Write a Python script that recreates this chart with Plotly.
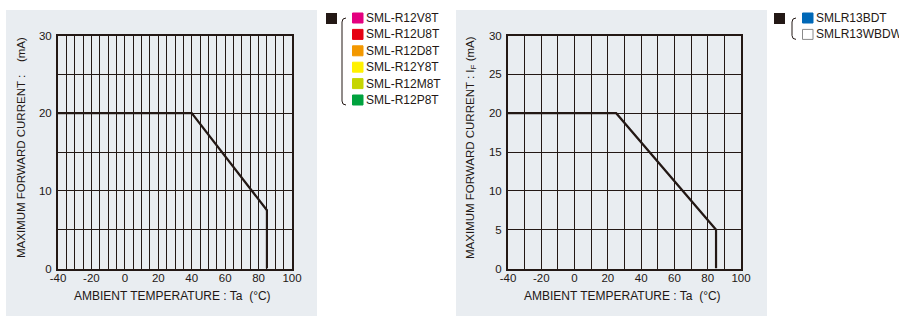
import plotly.graph_objects as go

W, H = 899, 316

# ---------------- data ----------------
left_temp = [-40, 40, 85, 85]
left_current = [20, 20, 7.5, 0]
right_temp = [-40, 25, 85, 85]
right_current = [20, 20, 5, 0]

x_grid_left = list(range(-40, 101, 5))
x_grid_right = list(range(-40, 101, 10))
x_labels = ["-40", "-20", "0", "20", "40", "60", "80", "100"]
x_label_vals = [-40, -20, 0, 20, 40, 60, 80, 100]
y_grid = list(range(0, 31, 5))
y_labels_left = {0: "0", 10: "10", 20: "20", 30: "30"}
y_labels_right = {0: "0", 5: "5", 10: "10", 15: "15", 20: "20", 25: "25", 30: "30"}

left_legend_names = ["SML-R12V8T", "SML-R12U8T", "SML-R12D8T", "SML-R12Y8T", "SML-R12M8T", "SML-R12P8T"]
left_legend_colors = ["#e4007f", "#e60012", "#f39800", "#fff100", "#c5d500", "#00a23e"]
right_legend_names = ["SMLR13BDT", "SMLR13WBDW"]
right_legend_colors = ["#0068b7", "#ffffff"]

INK = "#231815"
BG = "#e9edf1"
FONT = "Liberation Sans, Arial, sans-serif"


def px(x):
    return x / W


def py(y):
    return 1 - y / H


fig = go.Figure()
fig.add_trace(go.Scatter(x=left_temp, y=left_current, mode="lines",
                         line=dict(color=INK, width=2.2), xaxis="x", yaxis="y",
                         showlegend=False, hoverinfo="skip"))
fig.add_trace(go.Scatter(x=right_temp, y=right_current, mode="lines",
                         line=dict(color=INK, width=2.2), xaxis="x2", yaxis="y2",
                         showlegend=False, hoverinfo="skip"))


def xaxis_cfg(domain, grid):
    return dict(domain=domain, range=[-40, 100], tickvals=grid,
                ticktext=[x_labels[x_label_vals.index(v)] if v in x_label_vals else "" for v in grid],
                showgrid=True, gridcolor=INK, gridwidth=1.3, zeroline=False,
                showline=True, linecolor=INK, linewidth=2, mirror=True,
                ticks="", ticklen=0, automargin=False, tickangle=0,
                ticklabelstandoff=-2,
                tickfont=dict(family=FONT, size=11.5, color=INK),
                fixedrange=True)


def yaxis_cfg(domain, labels):
    return dict(domain=domain, range=[0, 30], tickvals=y_grid,
                ticktext=[labels.get(v, "") for v in y_grid],
                showgrid=True, gridcolor=INK, gridwidth=1.3, zeroline=False,
                showline=True, linecolor=INK, linewidth=2, mirror=True,
                ticks="", ticklen=0, automargin=False, ticklabelstandoff=2,
                tickfont=dict(family=FONT, size=11.5, color=INK),
                fixedrange=True)


ydom = [py(268.5), py(35.5)]
fig.update_layout(
    template="none",
    width=W, height=H, autosize=False,
    margin=dict(l=0, r=0, t=0, b=0, pad=0),
    paper_bgcolor="white", plot_bgcolor="white",
    xaxis=dict(xaxis_cfg([px(58), px(292)], x_grid_left), anchor="y"),
    yaxis=dict(yaxis_cfg(ydom, y_labels_left), anchor="x"),
    xaxis2=dict(xaxis_cfg([px(508), px(741)], x_grid_right), anchor="y2"),
    yaxis2=dict(yaxis_cfg(ydom, y_labels_right), anchor="x2"),
    font=dict(family=FONT, color=INK),
    showlegend=False,
)

shapes = []
annotations = []
# gray panels
for x0, x1 in [(6, 317), (456, 767)]:
    shapes.append(dict(type="rect", xref="paper", yref="paper", x0=px(x0), x1=px(x1),
                       y0=py(316), y1=py(10), fillcolor=BG, line=dict(width=0), layer="below"))

# axis titles
for cx in [172, 622]:
    annotations.append(dict(text="AMBIENT TEMPERATURE : Ta  (°C)", x=px(cx), y=py(296),
                            xref="paper", yref="paper", showarrow=False,
                            xanchor="center", yanchor="middle",
                            font=dict(family=FONT, size=12, color=INK)))
annotations.append(dict(text="MAXIMUM FORWARD CURRENT :    (mA)", x=px(21), y=py(148),
                        xref="paper", yref="paper", showarrow=False, textangle=-90,
                        xanchor="center", yanchor="middle",
                        font=dict(family=FONT, size=11.5, color=INK)))
annotations.append(dict(text="MAXIMUM FORWARD CURRENT : I<sub>F</sub> (mA)", x=px(471), y=py(148),
                        xref="paper", yref="paper", showarrow=False, textangle=-90,
                        xanchor="center", yanchor="middle",
                        font=dict(family=FONT, size=11.5, color=INK)))


def legend_block(black_x, bracket_x, sq_x, top_y, names, colors):
    step = 16.4
    shapes.append(dict(type="rect", xref="paper", yref="paper", x0=px(black_x), x1=px(black_x + 11),
                       y0=py(top_y + 12), y1=py(top_y + 1), fillcolor=INK, line=dict(width=0)))
    yb0 = top_y + 6
    yb1 = top_y + step * (len(names) - 1) + 11
    bx0, bx1 = bracket_x, bracket_x + 4
    path = (f"M {px(bx1)},{py(yb0)} Q {px(bx0)},{py(yb0)} {px(bx0)},{py(yb0 + 4)} "
            f"L {px(bx0)},{py(yb1 - 4)} Q {px(bx0)},{py(yb1)} {px(bx1)},{py(yb1)}")
    shapes.append(dict(type="path", xref="paper", yref="paper", path=path,
                       line=dict(color=INK, width=1)))
    for i, (n, c) in enumerate(zip(names, colors)):
        yc = top_y + 6 + i * step
        shapes.append(dict(type="rect", xref="paper", yref="paper", x0=px(sq_x), x1=px(sq_x + 10.5),
                           y0=py(yc + 5), y1=py(yc - 5), fillcolor=c,
                           line=dict(color="#8a8a8a" if c == "#ffffff" else c, width=1)))
        annotations.append(dict(text=n, x=px(sq_x + 11.5), y=py(yc), xref="paper", yref="paper",
                                xanchor="left", yanchor="middle", showarrow=False,
                                font=dict(family=FONT, size=12, color=INK)))


legend_block(326, 342, 352.5, 12, left_legend_names, left_legend_colors)
legend_block(774, 792, 802.5, 12, right_legend_names, right_legend_colors)

fig.update_layout(shapes=shapes, annotations=annotations)
fig.write_html("out.html", config={"displayModeBar": False},
               post_script="document.body.style.margin='0';document.body.style.overflow='hidden';")
